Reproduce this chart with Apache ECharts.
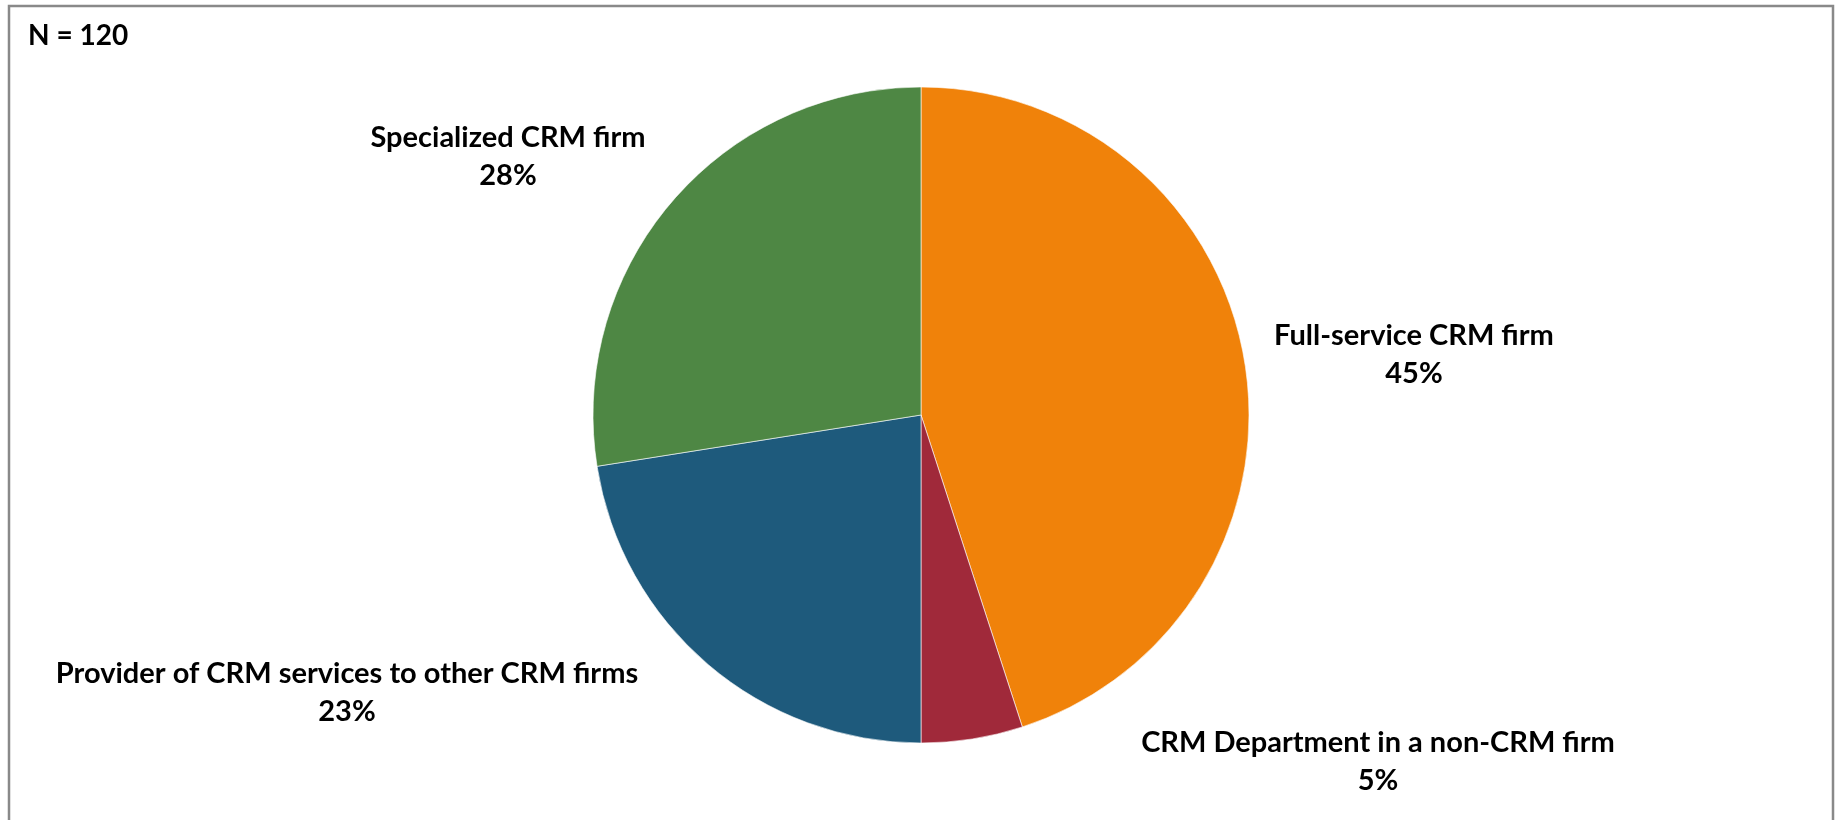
<!DOCTYPE html>
<html>
<head>
<meta charset="utf-8">
<script src="https://cdn.jsdelivr.net/npm/echarts@6/dist/echarts.min.js"></script>
<style>
html, body { margin: 0; padding: 0; background: #fff; }
#chart { width: 1837px; height: 820px; }
</style>
</head>
<body>
<div id="chart"></div>
<script>
// respondents per firm type, N = 120
var categories = ['Full-service CRM firm', 'CRM Department in a non-CRM firm', 'Provider of CRM services to other CRM firms', 'Specialized CRM firm']
var counts = [54, 6, 27, 33]
var colors = ['#F0820A', '#A0293A', '#1E5A7C', '#4E8744']
var sampleLabel = 'N = 120'

// where each label sits (Excel style free placement)
var labelSpots = [[1414, 355], [1378, 762], [347, 693], [508, 157]]

var chart = echarts.init(document.getElementById('chart'))
chart.setOption({
  backgroundColor: '#fff',
  animation: false,
  graphic: [
    {
      type: 'rect',
      shape: { x: 9, y: 6, width: 1824, height: 830 },
      style: { fill: 'none', stroke: '#898989', lineWidth: 2.5 }
    },
    {
      type: 'text',
      left: 28,
      top: 22,
      style: { text: sampleLabel, font: 'bold 28px Lato', fill: '#000' }
    }
  ],
  series: [{
    type: 'pie',
    center: [921, 415],
    radius: 328,
    startAngle: 90,
    clockwise: true,
    data: categories.map(function (name, i) {
      return { name: name, value: counts[i], itemStyle: { color: colors[i] } }
    }),
    itemStyle: { borderColor: '#fff', borderWidth: 0.6 },
    label: {
      show: true,
      position: 'outside',
      formatter: function (p) {
        return p.name + '\n' + Math.round(p.percent) + '%'
      },
      fontFamily: 'Lato',
      fontWeight: 'bold',
      fontSize: 29,
      lineHeight: 38,
      color: '#000',
      align: 'center'
    },
    labelLine: { show: false },
    labelLayout: function (params) {
      var spot = labelSpots[params.dataIndex]
      return { x: spot[0], y: spot[1], align: 'center', verticalAlign: 'middle' }
    },
    emphasis: { disabled: true }
  }]
})
</script>
</body>
</html>
